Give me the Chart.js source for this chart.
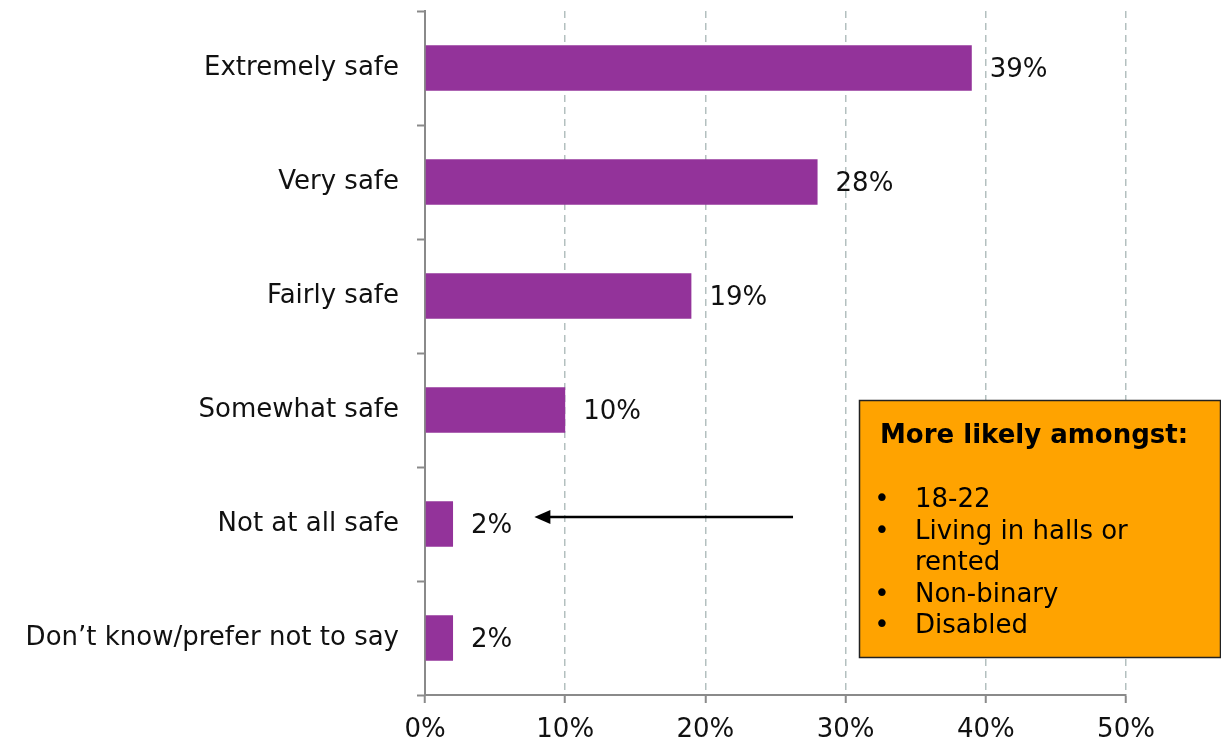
<!DOCTYPE html>
<html>
<head>
<meta charset="utf-8">
<script src="https://cdn.jsdelivr.net/npm/chart.js@4.4.0/dist/chart.umd.min.js"></script>
<style>
  html, body { margin: 0; padding: 0; background: #fff; }
  #wrap { position: relative; width: 1221px; height: 745px; }
</style>
</head>
<body>
<div id="wrap"><canvas id="chart" width="1221" height="745"></canvas></div>
<script>
const categories = ["Extremely safe", "Very safe", "Fairly safe", "Somewhat safe", "Not at all safe", "Don\u2019t know/prefer not to say"];
const values = [39, 28, 19, 10, 2, 2];
const xTicks = [0, 10, 20, 30, 40, 50];
const boxTitle = "More likely amongst:";
const boxLines = [["18-22"], ["Living in halls or", "rented"], ["Non-binary"], ["Disabled"]];

const FONT = "'DejaVu Sans', Verdana, sans-serif";
const FS = 26;

// value labels, callout box and arrow
const extras = {
  id: "extras",
  afterDatasetsDraw(chart) {
    const ctx = chart.ctx;
    const x = chart.scales.x, y = chart.scales.y;
    ctx.save();
    ctx.font = FS + "px " + FONT;
    ctx.fillStyle = "#111";
    ctx.textBaseline = "middle";
    ctx.textAlign = "left";
    values.forEach((v, i) => {
      ctx.fillText(v + "%", x.getPixelForValue(v) + 18, y.getPixelForValue(i) + 2);
    });

    // arrow pointing at "Not at all safe"
    const ay = y.getPixelForValue(4) - 7;
    const ax1 = x.getPixelForValue(26.25), ax0 = x.getPixelForValue(7.8);
    ctx.strokeStyle = "#000";
    ctx.lineWidth = 2.5;
    ctx.beginPath();
    ctx.moveTo(ax1, ay);
    ctx.lineTo(ax0 + 12, ay);
    ctx.stroke();
    ctx.fillStyle = "#000";
    ctx.beginPath();
    ctx.moveTo(ax0, ay);
    ctx.lineTo(ax0 + 16, ay - 7);
    ctx.lineTo(ax0 + 16, ay + 7);
    ctx.closePath();
    ctx.fill();

    // callout box
    const bx = 859.5, by = 400.5, bw = 361, bh = 257;
    ctx.fillStyle = "#FFA300";
    ctx.fillRect(bx, by, bw, bh);
    ctx.strokeStyle = "#222";
    ctx.lineWidth = 1.5;
    ctx.strokeRect(bx, by, bw, bh);
    ctx.fillStyle = "#000";
    ctx.textBaseline = "alphabetic";
    ctx.font = "bold " + FS + "px " + FONT;
    ctx.fillText(boxTitle, 880, 443);
    ctx.font = FS + "px " + FONT;
    let base = 507;
    boxLines.forEach(item => {
      ctx.textAlign = "center";
      ctx.fillText("\u2022", 882, base);
      ctx.textAlign = "left";
      item.forEach(line => {
        ctx.fillText(line, 915, base);
        base += 31.5;
      });
    });
    ctx.restore();
  }
};

new Chart(document.getElementById("chart"), {
  type: "bar",
  data: {
    labels: categories,
    datasets: [{
      data: values,
      backgroundColor: "#93339A",
      borderWidth: 0,
      barPercentage: 0.8,
      categoryPercentage: 0.5
    }]
  },
  options: {
    indexAxis: "y",
    responsive: false,
    animation: false,
    layout: { padding: { top: 11, right: 95, left: 0, bottom: 0 } },
    plugins: { legend: { display: false }, tooltip: { enabled: false } },
    scales: {
      x: {
        min: 0,
        max: 50,
        afterBuildTicks(scale) { scale.ticks = xTicks.map(v => ({ value: v })); },
        afterFit(scale) { scale.height = 50; },
        border: { color: "#8a8a8a", width: 2, dash: [7, 5] },
        grid: {
          color: ctx => ctx.index === 0 ? "rgba(0,0,0,0)" : "#b3c0bf",
          lineWidth: 1.5,
          tickColor: "#8a8a8a",
          tickLength: 8,
          tickWidth: 2,
          tickBorderDash: []
        },
        ticks: {
          callback: v => v + "%",
          color: "#111",
          font: { family: FONT, size: FS },
          padding: 12,
          maxRotation: 0
        }
      },
      y: {
        afterFit(scale) {
          scale.width = 425;
          scale.paddingTop = 0;
          scale.paddingBottom = 0;
        },
        border: { color: "#8a8a8a", width: 2 },
        grid: {
          offset: true,
          drawOnChartArea: false,
          tickColor: "#8a8a8a",
          tickLength: 8,
          tickWidth: 2
        },
        ticks: {
          color: "#111",
          font: { family: FONT, size: FS },
          padding: 18
        }
      }
    }
  },
  plugins: [extras]
});
</script>
</body>
</html>
